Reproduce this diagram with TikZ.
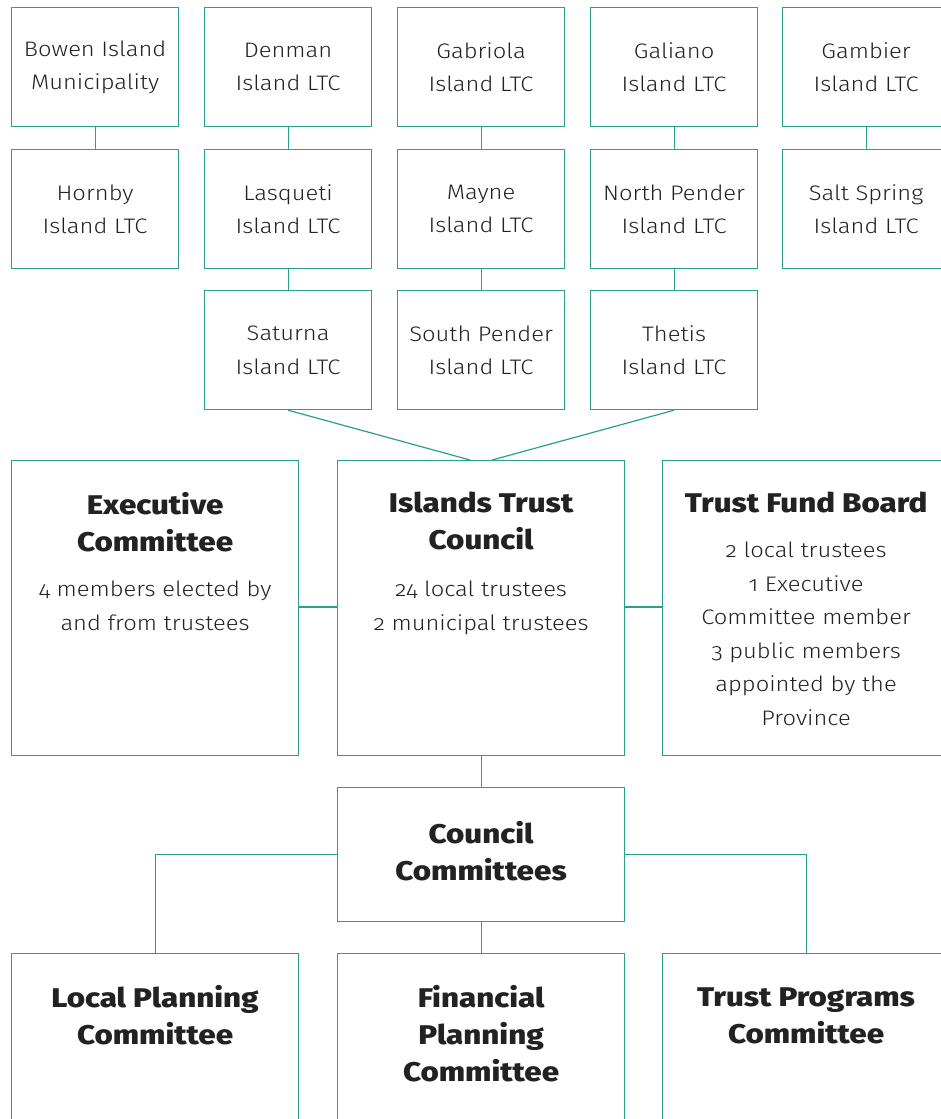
\documentclass[tikz,border=0pt]{standalone}
\usepackage{fontspec}
\setmainfont{Fira Sans Light}[Numbers=OldStyle, FakeStretch=1.13,
  BoldFont={Fira Sans ExtraBold}, BoldFeatures={FakeStretch=1.16}]
\definecolor{tealline}{RGB}{42,160,140}
\definecolor{ink}{RGB}{34,34,34}
\tikzset{
  box/.style={draw=tealline, line width=1.2pt, rectangle, anchor=north west, inner sep=0pt},
  sbox/.style={box, minimum width=167pt, minimum height=119pt, text=ink, align=center,
    font=\fontsize{21}{33.5}\selectfont},
  bigbox/.style={box, minimum width=287pt, minimum height=295pt},
  ccbox/.style={box, minimum width=287pt, minimum height=134pt},
  lowbox/.style={box, minimum width=287pt, minimum height=190pt},
  head/.style={anchor=north, inner sep=0pt, text=ink, align=center,
    font=\fontsize{27}{37}\selectfont\bfseries},
  body/.style={anchor=north, inner sep=0pt, text=ink, align=center,
    font=\fontsize{21}{33.5}\selectfont},
  link/.style={draw=tealline, line width=1.2pt}
}
\begin{document}
\begin{tikzpicture}[x=1pt,y=-1pt]
\useasboundingbox (0,0) rectangle (940,1119);
% top grid
\node[sbox] (bowen) at (11,7) {Bowen Island\\Municipality};
\node[sbox] (denman) at (204,7) {Denman\\Island LTC};
\node[sbox] (gabriola) at (397,7) {Gabriola\\Island LTC};
\node[sbox] (galiano) at (590,7) {Galiano\\Island LTC};
\node[sbox] (gambier) at (782,7) {Gambier\\Island LTC};
\node[sbox] (hornby) at (11,149) {Hornby\\Island LTC};
\node[sbox] (lasqueti) at (204,149) {Lasqueti\\Island LTC};
\node[sbox] (mayne) at (397,149) {Mayne\\Island LTC};
\node[sbox] (npender) at (590,149) {North Pender\\Island LTC};
\node[sbox] (saltspring) at (782,149) {Salt Spring\\Island LTC};
\node[sbox] (saturna) at (204,290) {Saturna\\Island LTC};
\node[sbox] (spender) at (397,290) {South Pender\\Island LTC};
\node[sbox] (thetis) at (590,290) {Thetis\\Island LTC};
% middle row
\node[bigbox] (exec) at (11,460) {};
\node[bigbox] (council) at (337,460) {};
\node[bigbox] (fund) at (662,460) {};
\node[head] (exech) at ([yshift=-32]exec.north) {Executive\\Committee};
\node[body] (execb) at ([yshift=-121]exec.north) {4 members elected by\\and from trustees};
\node[head] (councilh) at ([yshift=-32]council.north) {Islands Trust\\Council};
\node[body] (councilb) at ([yshift=-121]council.north) {24 local trustees\\2 municipal trustees};
\node[head] (fundh) at ([yshift=-32]fund.north) {Trust Fund Board};
\node[body] (fundb) at ([yshift=-82]fund.north) {2 local trustees\\1 Executive\\Committee member\\3 public members\\appointed by the\\Province};
% committees
\node[ccbox] (cc) at (337,787) {};
\node[head] (cch) at ([yshift=-34]cc.north) {Council\\Committees};
\node[lowbox] (lpc) at (11,953) {};
\node[lowbox] (fpc) at (337,953) {};
\node[lowbox] (tpc) at (662,953) {};
\node[head] (lpch) at ([yshift=-32]lpc.north) {Local Planning\\Committee};
\node[head] (fpch) at ([yshift=-32]fpc.north) {Financial\\Planning\\Committee};
\node[head] (tpch) at ([yshift=-35]tpc.north) {Trust Programs\\Committee};
% connectors
\draw[link] (bowen) -- (hornby);
\draw[link] (denman) -- (lasqueti);
\draw[link] (lasqueti) -- (saturna);
\draw[link] (gabriola) -- (mayne);
\draw[link] (mayne) -- (spender);
\draw[link] (galiano) -- (npender);
\draw[link] (npender) -- (thetis);
\draw[link] (gambier) -- (saltspring);
\draw[link] (saturna.south) -- ([xshift=-11]council.north);
\draw[link] (thetis.south) -- ([xshift=11]council.north);
\draw[link] (exec.east |- 0,607) -- (council.west |- 0,607);
\draw[link] (council.east |- 0,607) -- (fund.west |- 0,607);
\draw[link] (council) -- (cc);
\draw[link] (cc.west) -| (lpc.north);
\draw[link] (cc.east) -| (tpc.north);
\draw[link] (cc) -- (fpc);
\end{tikzpicture}
\end{document}
